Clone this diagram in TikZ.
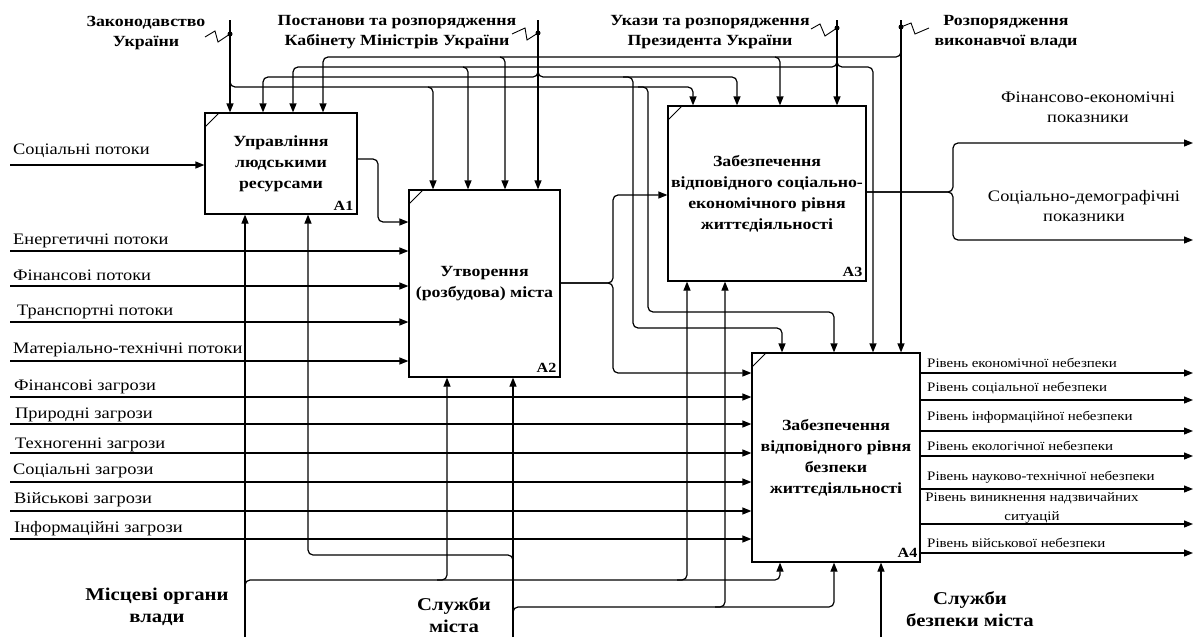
\documentclass[tikz,border=0pt]{standalone}
\usepackage{fontspec}
\setmainfont{Liberation Serif}[FakeStretch=1.15]
\usetikzlibrary{arrows.meta}

\begin{document}
\begin{tikzpicture}[
    x=1pt, y=-1pt,
    % Define styles
    func/.style={
        draw=black,
        line width=1.2pt,
        fill=white,
        align=center,
        inner sep=0pt,
        font=\fontsize{15.5}{21}\selectfont\bfseries,
        path picture={
            \draw[line width=1pt]
                ([yshift=-14pt]path picture bounding box.north west) --
                ([xshift=14pt]path picture bounding box.north west);
        }
    },
    fnum/.style={
        anchor=south east,
        inner sep=0pt,
        font=\fontsize{14}{14}\selectfont\bfseries
    },
    flow/.style={
        draw=black,
        line width=1.2pt,
        rounded corners=5pt,
        -{Triangle[length=9pt,width=7pt]}
    },
    zigzag/.style={
        draw=black,
        line width=0.9pt
    },
    ctrllabel/.style={
        font=\fontsize{15.5}{20}\selectfont\bfseries,
        align=center,
        inner sep=0pt
    },
    mechlabel/.style={
        font=\fontsize{18}{22}\selectfont\bfseries,
        align=center,
        inner sep=0pt
    },
    inlabel/.style={
        font=\fontsize{16}{19}\selectfont,
        anchor=base west,
        inner sep=0pt
    },
    outlabel/.style={
        font=\fontsize{16}{20}\selectfont,
        align=center,
        inner sep=0pt
    },
    risklabel/.style={
        font=\fontsize{13}{19}\selectfont,
        align=center,
        inner sep=0pt
    }
]
\useasboundingbox (0,0) rectangle (1196,637);

% ============================================================
% Functional blocks
% ============================================================
\node[func, minimum width=152pt, minimum height=101pt] (A1) at (281,163.5)
    {Управління\\людськими\\ресурсами};
\node[func, minimum width=151pt, minimum height=187pt] (A2) at (484.5,283.5)
    {Утворення\\(розбудова) міста};
\node[func, minimum width=198pt, minimum height=175pt] (A3) at (767,193.5)
    {Забезпечення\\відповідного соціально-\\економічного рівня\\життєдіяльності};
\node[func, minimum width=168pt, minimum height=209pt] (A4) at (836,457.5)
    {Забезпечення\\відповідного рівня\\безпеки\\життєдіяльності};

\node[fnum] (A1num) at ([xshift=-4pt,yshift=4pt]A1.south east) {A1};
\node[fnum] (A2num) at ([xshift=-4pt,yshift=5pt]A2.south east) {A2};
\node[fnum] (A3num) at ([xshift=-4pt,yshift=5pt]A3.south east) {A3};
\node[fnum] (A4num) at ([xshift=-3pt,yshift=5pt]A4.south east) {A4};

% ============================================================
% Controls (top)
% ============================================================
\coordinate (zak) at (230,20);
\coordinate (post) at (538,20);
\coordinate (ukaz) at (837,20);
\coordinate (rozp) at (901,20);
\coordinate (zakDot) at (230,34);
\coordinate (postDot) at (538,33);
\coordinate (ukazDot) at (837,28);
\coordinate (rozpDot) at (901,27);

\node[ctrllabel] (zakL) at (146,33) {Законодавство\\України};
\node[ctrllabel] (postL) at (397,32) {Постанови та розпорядження\\Кабінету Міністрів України};
\node[ctrllabel] (ukazL) at (710,32) {Укази та розпорядження\\Президента України};
\node[ctrllabel] (rozpL) at (1006,32) {Розпорядження\\виконавчої влади};

% squiggles to the labels
\draw[zigzag] (205,37) -- (215,31) -- (218,42) -- (zakDot);
\draw[zigzag] (512,34) -- (525,28) -- (527,40) -- (postDot);
\draw[zigzag] (811,29) -- (820,24) -- (825,36) -- (ukazDot);
\draw[zigzag] (rozpDot) -- (911,23) -- (915,34) -- (929,28);
\fill (zakDot) circle (2.5pt);
\fill (postDot) circle (2.5pt);
\fill (ukazDot) circle (2.5pt);
\fill (rozpDot) circle (2.5pt);

% Законодавство України
\draw[flow] (zak) -- (zak |- A1.north);
\draw[flow] (230,78) |- (693,87) -- (693,0 |- A3.north);
\draw[flow] (428,87) -| (433,0 |- A2.north);
\draw[flow] (638,87) -| (648,312) -| (834,0 |- A4.north);

% Постанови КМУ
\draw[flow] (post) -- (post |- A2.north);
\draw[flow] (538,70) |- (263,77) -- (263,0 |- A1.north);
\draw[flow] (538,70) |- (737,77) -- (737,0 |- A3.north);
\draw[flow] (623,77) -| (633,328) -| (782,0 |- A4.north);

% Укази Президента
\draw[flow] (ukaz) -- (ukaz |- A3.north);
\draw[flow] (837,60) |- (293,67) -- (293,0 |- A1.north);
\draw[flow] (837,60) |- (873,67) -- (873,0 |- A4.north);
\draw[flow] (463,67) -| (468,0 |- A2.north);

% Розпорядження виконавчої влади
\draw[flow] (rozp) -- (rozp |- A4.north);
\draw[flow] (901,50) |- (323,57) -- (323,0 |- A1.north);
\draw[flow] (500,57) -| (505,0 |- A2.north);
\draw[flow] (775,57) -| (780,0 |- A3.north);

% ============================================================
% Inputs (left)
% ============================================================
\coordinate (inSoc) at (10,165);
\coordinate (inEner) at (10,251);
\coordinate (inFin) at (10,286);
\coordinate (inTrans) at (10,322);
\coordinate (inMat) at (10,361);
\coordinate (thFin) at (10,397);
\coordinate (thNat) at (10,424);
\coordinate (thTech) at (10,453);
\coordinate (thSoc) at (10,482);
\coordinate (thMil) at (10,511);
\coordinate (thInf) at (10,539);

\node[inlabel] (inSocL) at (13,154) {Соціальні потоки};
\node[inlabel] (inEnerL) at (13,244) {Енергетичні потоки};
\node[inlabel] (inFinL) at (13,280) {Фінансові потоки};
\node[inlabel] (inTransL) at (17,315) {Транспортні потоки};
\node[inlabel] (inMatL) at (13,353) {Матеріально-технічні потоки};
\node[inlabel] (thFinL) at (14,390) {Фінансові загрози};
\node[inlabel] (thNatL) at (15,418) {Природні загрози};
\node[inlabel] (thTechL) at (15,448) {Техногенні загрози};
\node[inlabel] (thSocL) at (13,474) {Соціальні загрози};
\node[inlabel] (thMilL) at (14,503) {Військові загрози};
\node[inlabel] (thInfL) at (14,532) {Інформаційні загрози};

\draw[flow] (inSoc) -- (inSoc -| A1.west);
\draw[flow] (inEner) -- (inEner -| A2.west);
\draw[flow] (inFin) -- (inFin -| A2.west);
\draw[flow] (inTrans) -- (inTrans -| A2.west);
\draw[flow] (inMat) -- (inMat -| A2.west);
\draw[flow] (thFin) -- (thFin -| A4.west);
\draw[flow] (thNat) -- (thNat -| A4.west);
\draw[flow] (thTech) -- (thTech -| A4.west);
\draw[flow] (thSoc) -- (thSoc -| A4.west);
\draw[flow] (thMil) -- (thMil -| A4.west);
\draw[flow] (thInf) -- (thInf -| A4.west);

% ============================================================
% Links between blocks
% ============================================================
\draw[flow] (A1.east |- 0,159) -| (378,222) -- (A2.west |- 0,222);
\draw[flow] (A2.east |- 0,283) -| (613,195) -- (A3.west |- 0,195);
\draw[flow] (A2.east |- 0,283) -| (613,373) -- (A4.west |- 0,373);

% ============================================================
% Outputs (right)
% ============================================================
\coordinate (outFin) at (1193,143);
\coordinate (outSoc) at (1193,240);
\node[outlabel] (outFinL) at (1088,107) {Фінансово-економічні\\показники};
\node[outlabel] (outSocL) at (1084,206) {Соціально-демографічні\\показники};
\draw[flow] (A3.east |- 0,192) -| (953,0 |- outFin) -- (outFin);
\draw[flow] (A3.east |- 0,192) -| (953,0 |- outSoc) -- (outSoc);

\coordinate (rEcon) at (1193,373);
\coordinate (rSoc) at (1193,400);
\coordinate (rInf) at (1193,431);
\coordinate (rEco) at (1193,456);
\coordinate (rSci) at (1193,489);
\coordinate (rEmer) at (1193,524);
\coordinate (rMil) at (1193,553);

\node[risklabel, anchor=base west] (rEconL) at (927,367) {Рівень економічної небезпеки};
\node[risklabel, anchor=base west] (rSocL) at (927,391) {Рівень соціальної небезпеки};
\node[risklabel, anchor=base west] (rInfL) at (927,420) {Рівень інформаційної небезпеки};
\node[risklabel, anchor=base west] (rEcoL) at (927,450) {Рівень екологічної небезпеки};
\node[risklabel, anchor=base west] (rSciL) at (927,480) {Рівень науково-технічної небезпеки};
\node[risklabel] (rEmerL) at (1032,508) {Рівень виникнення надзвичайних\\ситуацій};
\node[risklabel, anchor=base west] (rMilL) at (927,547) {Рівень військової небезпеки};

\draw[flow] (A4.east |- rEcon) -- (rEcon);
\draw[flow] (A4.east |- rSoc) -- (rSoc);
\draw[flow] (A4.east |- rInf) -- (rInf);
\draw[flow] (A4.east |- rEco) -- (rEco);
\draw[flow] (A4.east |- rSci) -- (rSci);
\draw[flow] (A4.east |- rEmer) -- (rEmer);
\draw[flow] (A4.east |- rMil) -- (rMil);

% ============================================================
% Mechanisms (bottom)
% ============================================================
\coordinate (mLocal) at (245,637);
\coordinate (mCity) at (513,637);
\coordinate (mSafe) at (881,637);

\node[mechlabel] (mLocalL) at (157,607) {Місцеві органи\\влади};
\node[mechlabel] (mCityL) at (454,615) {Служби\\міста};
\node[mechlabel] (mSafeL) at (970,609) {Служби\\безпеки міста};

% Місцеві органи влади
\draw[flow] (mLocal) -- (mLocal |- A1.south);
\draw[flow] (245,590) |- (780,580) -- (780,0 |- A4.south);
\draw[flow] (437,580) -| (447,0 |- A2.south);
\draw[flow] (677,580) -| (687,0 |- A3.south);

% Служби міста
\draw[flow] (mCity) -- (mCity |- A2.south);
\draw[flow] (513,565) |- (308,555) -- (308,0 |- A1.south);
\draw[flow] (513,617) |- (834,607) -- (834,0 |- A4.south);
\draw[flow] (715,607) -| (725,0 |- A3.south);

% Служби безпеки міста
\draw[flow] (mSafe) -- (mSafe |- A4.south);

\end{tikzpicture}
\end{document}
